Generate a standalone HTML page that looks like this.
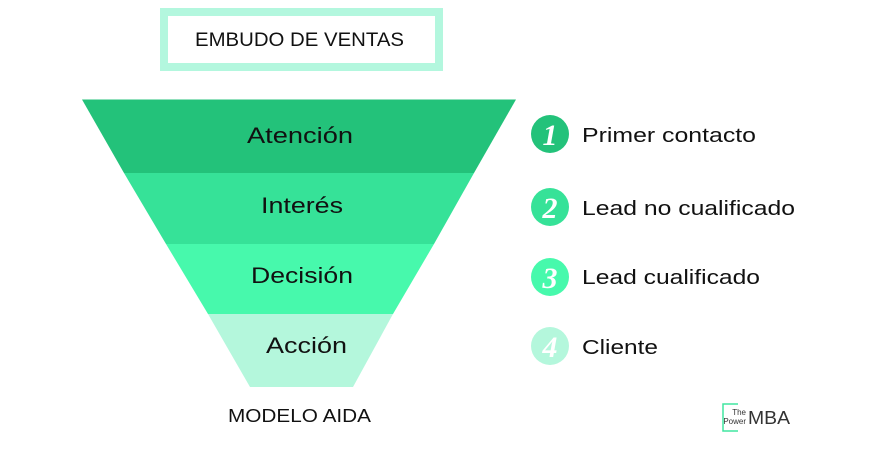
<!DOCTYPE html>
<html><head><meta charset="utf-8"><style>
body{margin:0;background:#fff;width:880px;height:449px;overflow:hidden;font-family:"Liberation Sans",sans-serif}
</style></head><body>
<svg width="880" height="449" viewBox="0 0 880 449" xmlns="http://www.w3.org/2000/svg" font-family="Liberation Sans, sans-serif">
<rect x="164" y="12" width="275" height="55" fill="#fff" stroke="#b3f7de" stroke-width="8"/>
<text x="195" y="46" font-size="19" fill="#111" textLength="209" lengthAdjust="spacingAndGlyphs">EMBUDO DE VENTAS</text>
<polygon points="82,99.5 516,99.5 474,173 124,173" fill="#23c27a"/>
<polygon points="124,173 474,173 434,244 166,244" fill="#36e298"/>
<polygon points="166,244 434,244 393,314 208,314" fill="#47f9ac"/>
<polygon points="208,314 393,314 353,387 250,387" fill="#b4f7dc"/>
<g font-size="22" fill="#111" lengthAdjust="spacingAndGlyphs">
<text x="247" y="143" textLength="106" lengthAdjust="spacingAndGlyphs">Atención</text>
<text x="261" y="213" textLength="82" lengthAdjust="spacingAndGlyphs">Interés</text>
<text x="251" y="283" textLength="102" lengthAdjust="spacingAndGlyphs">Decisión</text>
<text x="266" y="353" textLength="81" lengthAdjust="spacingAndGlyphs">Acción</text>
</g>
<text x="228" y="422" font-size="18" fill="#111" textLength="143" lengthAdjust="spacingAndGlyphs">MODELO AIDA</text>
<g font-family="Liberation Serif, serif" font-style="italic" font-size="30" font-weight="bold" fill="#fff" text-anchor="middle">
<circle cx="550" cy="134" r="19" fill="#23c27a"/><text x="550" y="145">1</text>
<circle cx="550" cy="207" r="19" fill="#36e298"/><text x="550" y="218">2</text>
<circle cx="550" cy="277" r="19" fill="#47f9ac"/><text x="550" y="288">3</text>
<circle cx="550" cy="346" r="19" fill="#b4f7dc"/><text x="550" y="357">4</text>
</g>
<g font-size="20" fill="#111">
<text x="582" y="142" textLength="174" lengthAdjust="spacingAndGlyphs">Primer contacto</text>
<text x="582" y="215" textLength="213" lengthAdjust="spacingAndGlyphs">Lead no cualificado</text>
<text x="582" y="284" textLength="178" lengthAdjust="spacingAndGlyphs">Lead cualificado</text>
<text x="582" y="354" textLength="76" lengthAdjust="spacingAndGlyphs">Cliente</text>
</g>
<path d="M738 404 H723 V431 H738" fill="none" stroke="#40e6a0" stroke-width="1.5"/>
<text x="746" y="415" text-anchor="end" font-size="8" fill="#333">The</text>
<text x="746" y="424" text-anchor="end" font-size="8" fill="#333">Power</text>
<text x="748" y="424" font-size="18" fill="#333" textLength="42" lengthAdjust="spacingAndGlyphs">MBA</text>
</svg>
</body></html>
